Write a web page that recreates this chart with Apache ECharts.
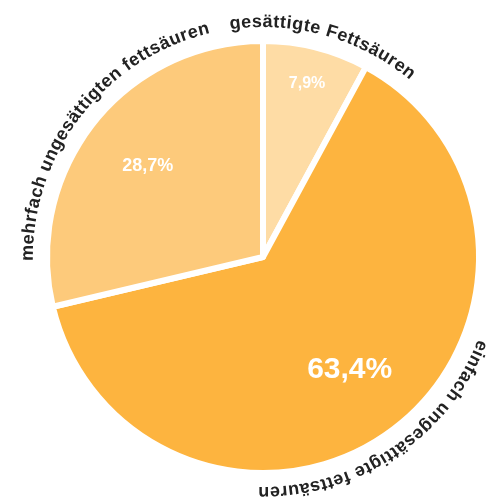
<!DOCTYPE html>
<html>
<head>
<meta charset="utf-8">
<script src="https://cdn.jsdelivr.net/npm/echarts@6/dist/echarts.min.js"></script>
<style>
  html, body { margin: 0; padding: 0; background: #fff; }
  #chart { width: 498px; height: 498px; }
</style>
</head>
<body>
<div id="chart"></div>
<script>
  // Daten
  var names = ['gesättigte Fettsäuren', 'einfach ungesättigte fettsäuren', 'mehrfach ungesättigten fettsäuren'];
  var values = [7.9, 63.4, 28.7];

  // Stil je Segment
  var colors = ['#fedca5', '#fdb43f', '#fdca7b'];
  var pctSize = [16, 30, 18];
  var pctRadius = [0.83, 0.66, 0.68];
  var labelShift = [1.5, 3.5, -0.5]; // Grad, Verschiebung der Bogenbeschriftung

  var chart = echarts.init(document.getElementById('chart'));
  chart.setOption({
    animation: false,
    series: [{
      type: 'pie',
      center: [263, 257],
      radius: 216,
      startAngle: 90,
      clockwise: true,
      label: { show: false },
      labelLine: { show: false },
      emphasis: { disabled: true },
      itemStyle: { borderColor: '#fff', borderWidth: 6 },
      data: names.map(function (n, i) {
        return { name: n, value: values[i], itemStyle: { color: colors[i] } };
      })
    }]
  });

  var measure = document.createElement('canvas').getContext('2d');

  // Text entlang des Kreisbogens (im Uhrzeigersinn, Oberkante nach aussen)
  function arcText(text, cx, cy, R, mid, font, color, spacing) {
    measure.font = font;
    var chars = text.split('');
    var widths = chars.map(function (c) { return measure.measureText(c).width + spacing; });
    var total = widths.reduce(function (a, b) { return a + b; }, 0);
    var a = mid - total / R / 2;
    var out = [];
    chars.forEach(function (c, i) {
      var ang = a + (widths[i] / 2) / R;
      a += widths[i] / R;
      out.push({
        type: 'text',
        z: 100,
        x: cx + R * Math.cos(ang),
        y: cy + R * Math.sin(ang),
        rotation: -(ang + Math.PI / 2),
        style: { text: c, font: font, fill: color, align: 'center', verticalAlign: 'middle' }
      });
    });
    return out;
  }

  function fmt(v) {
    return v.toFixed(1).replace('.', ',') + '%';
  }

  var data = chart.getModel().getSeriesByIndex(0).getData();
  var graphics = [];
  for (var i = 0; i < values.length; i++) {
    var l = data.getItemLayout(i);
    var mid = (l.startAngle + l.endAngle) / 2;
    graphics = graphics.concat(arcText(names[i], l.cx, l.cy, l.r + 19, mid + labelShift[i] * Math.PI / 180,
      'bold 18px "Liberation Sans", Arial, sans-serif', '#222', 0.7));
    var pr = l.r * pctRadius[i];
    graphics.push({
      type: 'text',
      z: 100,
      x: l.cx + pr * Math.cos(mid),
      y: l.cy + pr * Math.sin(mid),
      style: {
        text: fmt(values[i]),
        font: 'bold ' + pctSize[i] + 'px "Liberation Sans", Arial, sans-serif',
        fill: '#fff', align: 'center', verticalAlign: 'middle'
      }
    });
  }
  chart.setOption({ graphic: graphics });
</script>
</body>
</html>
